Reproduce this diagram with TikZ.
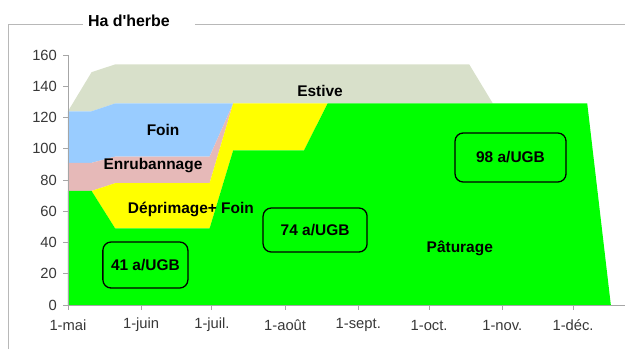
\documentclass[tikz,border=0pt]{standalone}
\usepackage{fontspec}
\setmainfont{Liberation Sans}
\usetikzlibrary{positioning}
\definecolor{paturage}{HTML}{00FF00}
\definecolor{deprimage}{HTML}{FFFF00}
\definecolor{foin}{HTML}{99CCFF}
\definecolor{enrubannage}{HTML}{E6B9B8}
\definecolor{estive}{HTML}{D8E0CA}
\colorlet{axiscolor}{black!35}
\colorlet{framecolor}{black!28}
\colorlet{ticktext}{black!78}
\tikzstyle{zonelabel}=[text=black, font=\fontsize{13.2}{15}\selectfont\bfseries, inner sep=0pt]
\tikzstyle{chargebox}=[zonelabel, draw=black, line width=1.1pt, rounded corners=7pt, align=center]
\tikzstyle{ticklabel}=[text=ticktext, font=\fontsize{12.6}{14}\selectfont, inner sep=0pt]

\begin{document}
\begin{tikzpicture}[x=0.0708cm, y=0.046875cm]
    \useasboundingbox (-28.8,-28.16) rectangle (236.0,195.2);

    % Frame and title
    \node[zonelabel, font=\fontsize{13.6}{15}\selectfont\bfseries] at (25.8,181.8) (title) {Ha d\textquotesingle herbe};
    \coordinate (frameBottom) at (-25.2,-28.2);
    \coordinate (frameCorner) at (-25.2,179.6);
    \coordinate (frameGapLeft) at (6.4,179.6);
    \coordinate (frameGapRight) at (53.8,179.6);
    \coordinate (frameEnd) at (236.0,179.6);
    \draw[framecolor, line width=0.8pt] (frameBottom) -- (frameCorner) -- (frameGapLeft);
    \draw[framecolor, line width=0.8pt] (frameGapRight) -- (frameEnd);

    % Areas
    \fill[estive] (0,124) -- (10,149) -- (20,154) -- (170,154) -- (180,129) -- (20,129) -- (10,124) -- cycle;
    \fill[foin] (0,124) -- (10,124) -- (20,129) -- (70,129) -- (60,95) -- (20,95) -- (10,91) -- (0,91) -- cycle;
    \fill[enrubannage] (0,91) -- (10,91) -- (20,95) -- (60,95) -- (70,129) -- (60,78) -- (20,78) -- (10,73) -- (0,73) -- cycle;
    \fill[deprimage] (10,73) -- (20,78) -- (60,78) -- (70,129) -- (110,129) -- (100,99) -- (70,99) -- (60,49) -- (20,49) -- cycle;
    \fill[paturage] (0,0) -- (0,73) -- (10,73) -- (20,49) -- (60,49) -- (70,99) -- (100,99) -- (110,129) -- (220,129) -- (230,0) -- cycle;

    % Axes
    \coordinate (origin) at (0,0);
    \coordinate (yTop) at (0,160);
    \coordinate (xEnd) at (236.0,0);
    \draw[axiscolor, line width=0.8pt] (yTop) -- (origin) -- (xEnd);
    \foreach \y in {0,20,...,160} {
        \draw[axiscolor, line width=0.8pt] (-2.1,\y) -- (0,\y);
        \node[ticklabel, anchor=east] at (-4.6,\y) (ytick\y) {\y};
    }
    \foreach \d/\m in {0/1-mai, 31/1-juin, 61/1-juil., 92/1-août, 123/1-sept., 153/1-oct., 184/1-nov., 214/1-déc.} {
        \draw[axiscolor, line width=0.8pt] (\d,0) -- (\d,-3.2);
        \node[ticklabel] at (\d,-12.8) (xtick\d) {\m};
    }

    % Labels
    \node[zonelabel] at (106.8,137) (estiveLabel) {Estive};
    \node[zonelabel] at (40.3,112) (foinLabel) {Foin};
    \node[zonelabel] at (36,89) (enrubannageLabel) {Enrubannage};
    \node[zonelabel] at (52.1,61.4) (deprimageLabel) {Déprimage+ Foin};
    \node[zonelabel] at (166,36.5) (paturageLabel) {Pâturage};

    \node[chargebox, minimum width=2.55cm, minimum height=1.38cm] at (32.8,25.6) (box41) {41 a/UGB};
    \node[chargebox, minimum width=3.12cm, minimum height=1.32cm] at (104.7,48) (box74) {74 a/UGB};
    \node[chargebox, minimum width=3.33cm, minimum height=1.47cm] at (187.5,94.4) (box98) {98 a/UGB};
\end{tikzpicture}
\end{document}
